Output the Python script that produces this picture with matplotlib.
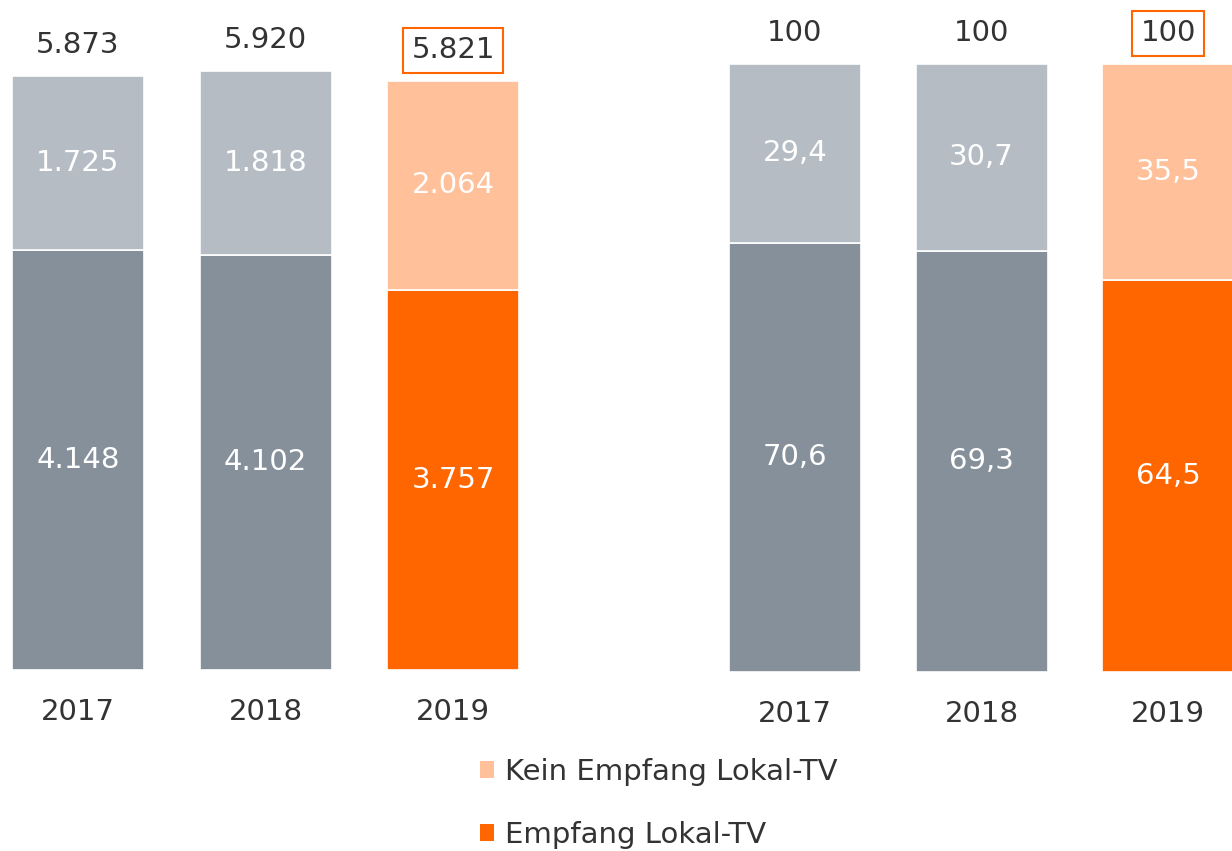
import matplotlib
matplotlib.use("Agg")
import matplotlib.pyplot as plt
from matplotlib.patches import Patch

years = ["2017", "2018", "2019"]
abs_empfang = [4148, 4102, 3757]
abs_kein = [1725, 1818, 2064]
abs_total = [5873, 5920, 5821]
pct_empfang = [70.6, 69.3, 64.5]
pct_kein = [29.4, 30.7, 35.5]
pct_total = [100, 100, 100]

legend_labels = ["Kein Empfang Lokal-TV", "Empfang Lokal-TV"]

DARK_GRAY = "#85909B"
LIGHT_GRAY = "#B5BCC4"
ORANGE = "#FF6600"
LIGHT_ORANGE = "#FFC09A"
TEXT = "#333333"
FS = 21

W, H = 1232, 851
fig = plt.figure(figsize=(W / 100, H / 100), dpi=100)
plt.rcParams['font.family'] = ['DejaVu Sans']

def fmt_de_int(v):
    return f"{v:,}".replace(",", ".")

def fmt_de_dec(v):
    return f"{v:.1f}".replace(".", ",")

def make_panel(x0, x1, bottom_px, centers_px, spacing, ylim_top, lower, upper, totals, fmt_seg, fmt_tot):
    ax = fig.add_axes([x0 / W, 1 - bottom_px / H, (x1 - x0) / W, bottom_px / H])
    xs = list(range(len(years)))
    xl = (x0 - centers_px[0]) / spacing
    xr = (x1 - centers_px[0]) / spacing
    bw = 132 / spacing
    low_cols = [DARK_GRAY, DARK_GRAY, ORANGE]
    up_cols = [LIGHT_GRAY, LIGHT_GRAY, LIGHT_ORANGE]
    ax.bar(xs, lower, width=bw, color=low_cols, edgecolor="white", linewidth=1.2)
    ax.bar(xs, upper, bottom=lower, width=bw, color=up_cols, edgecolor="white", linewidth=1.2)
    ax.set_xlim(xl, xr)
    ax.set_ylim(0, ylim_top)
    ax.axis("off")
    for i in xs:
        ax.text(i, lower[i] / 2, fmt_seg(lower[i]), ha="center", va="center",
                color="white", fontsize=FS)
        ax.text(i, lower[i] + upper[i] / 2, fmt_seg(upper[i]), ha="center", va="center",
                color="white", fontsize=FS)
        bbox = None
        if i == 2:
            bbox = dict(boxstyle="square,pad=0.28", facecolor="white", edgecolor=ORANGE, linewidth=1.5)
        ax.annotate(fmt_tot(totals[i]), xy=(i, totals[i]), xytext=(0, 22),
                    textcoords="offset points", ha="center", va="center",
                    color=TEXT, fontsize=FS, bbox=bbox, annotation_clip=False)
        ax.annotate(years[i], xy=(i, 0), xytext=(0, -30), textcoords="offset points",
                    ha="center", va="center", color=TEXT, fontsize=FS, annotation_clip=False)
    return ax

make_panel(0, 560, 670, [78, 266, 453], 187.5, 670 / 0.1012,
           abs_empfang, abs_kein, abs_total, fmt_de_int, fmt_de_int)
make_panel(600, 1232, 672, [795, 982, 1168], 186.5, 672 / 6.08,
           pct_empfang, pct_kein, pct_total, fmt_de_dec, lambda v: str(v))

handles = [Patch(facecolor=LIGHT_ORANGE), Patch(facecolor=ORANGE)]
fig.legend(handles, legend_labels, loc="upper left",
           bbox_to_anchor=(474 / W, 1 - 752 / H), frameon=False, fontsize=FS,
           handlelength=0.5, handleheight=0.5, handletextpad=0.35,
           labelspacing=1.2, labelcolor=TEXT, borderaxespad=0, borderpad=0.2)

fig.savefig("out.png", dpi=100)
